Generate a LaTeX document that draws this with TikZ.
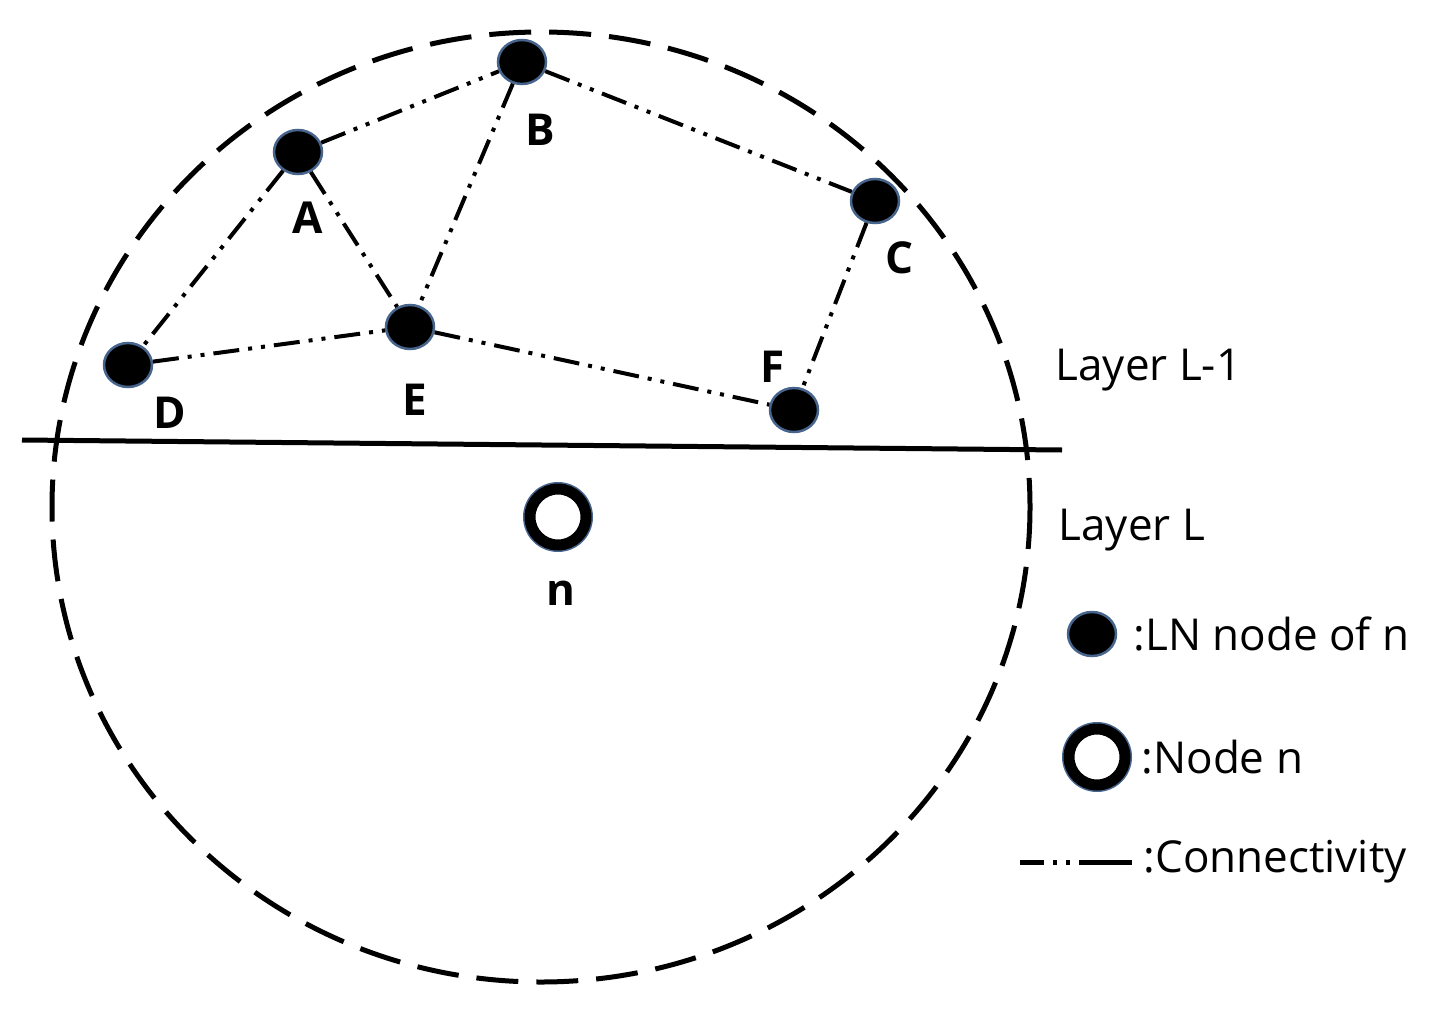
\documentclass[tikz,border=0pt]{standalone}
\usepackage{fontspec}
\setmainfont{Open Sans}
\usetikzlibrary{shapes.geometric}
\definecolor{rim}{RGB}{70,100,140}
\begin{document}
\begin{tikzpicture}[x=1pt,y=-1pt,
  ln/.style={ellipse,draw=rim,fill=black,line width=2.5pt,minimum width=48pt,minimum height=44pt,inner sep=0pt},
  nn/.style={circle,draw=black,fill=white,line width=11pt,minimum size=56pt,inner sep=0pt,
    append after command={\pgfextra{\draw[rim,line width=2pt] (\tikzlastnode.center) circle (34pt);}}},
  conn/.style={line width=4pt,dash pattern=on 26pt off 9pt on 4pt off 9pt on 4pt off 9pt},
  lbl/.style={font=\fontsize{44}{50}\selectfont\bfseries},
  txt/.style={font=\fontsize{44}{50}\selectfont,anchor=west}]
\useasboundingbox (0,0) rectangle (1453,1022);
\draw[line width=5pt,dash pattern=on 42pt off 18pt] (541,507) ellipse [x radius=489, y radius=475];
\draw[line width=5pt] (22,440) -- (1062,450);
\node[ln] (B) at (522,62) {};
\node[ln] (A) at (298,152) {};
\node[ln] (C) at (875,201) {};
\node[ln] (E) at (410,327) {};
\node[ln] (D) at (128,365) {};
\node[ln] (F) at (794,410) {};
\node[nn] (n) at (558,517) {};
\foreach \a/\b in {A/B,B/C,A/D,A/E,B/E,D/E,E/F,C/F} \draw[conn] (\a) -- (\b);
\node[lbl] at (540,130) {B};
\node[lbl] at (308,218) {A};
\node[lbl] at (900,258) {C};
\node[lbl] at (415,400) {E};
\node[lbl] at (170,413) {D};
\node[lbl] at (773,367) {F};
\node[lbl] at (561,593) {n};
\node[txt] at (1052,370) {Layer L-1};
\node[txt] at (1055,530) {Layer L};
\node[ln] (l1) at (1092,634) {};
\node[txt] at (1130,634) {:LN node of n};
\node[nn] (l2) at (1097,757) {};
\node[txt] at (1138,757) {:Node n};
\coordinate (c1) at (1020,862);
\coordinate (c2) at (1132,862);
\draw[line width=5pt,dash pattern=on 24pt off 9pt on 4pt off 9pt on 4pt off 9pt on 60pt off 0pt] (c1) -- (c2);
\node[txt] at (1140,862) {:Connectivity};
\end{tikzpicture}
\end{document}
